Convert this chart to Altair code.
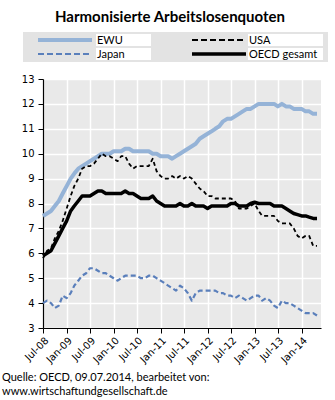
import altair as alt
import pandas as pd

months = pd.date_range("2008-07-01", "2014-05-01", freq="MS")

ewu = [7.5, 7.6, 7.7, 7.9, 8.1, 8.4,
       8.7, 9.0, 9.2, 9.4, 9.5, 9.6, 9.7, 9.8, 9.9, 10.0, 10.0, 10.0,
       10.1, 10.1, 10.1, 10.2, 10.2, 10.1, 10.1, 10.1, 10.1, 10.1, 10.0, 10.0,
       9.9, 9.9, 9.9, 9.8, 9.9, 10.0, 10.1, 10.2, 10.3, 10.4, 10.6, 10.7,
       10.8, 10.9, 11.0, 11.1, 11.3, 11.4, 11.4, 11.5, 11.6, 11.7, 11.8, 11.8,
       11.9, 12.0, 12.0, 12.0, 12.0, 12.0, 11.9, 12.0, 11.9, 11.9, 11.8, 11.8,
       11.8, 11.7, 11.7, 11.6, 11.6]
usa = [5.8, 6.1, 6.2, 6.6, 6.9, 7.3,
       7.8, 8.3, 8.7, 9.0, 9.4, 9.5, 9.5, 9.6, 9.8, 10.0, 9.9, 9.9,
       9.8, 9.7, 9.9, 9.9, 9.6, 9.4, 9.5, 9.5, 9.5, 9.5, 9.8, 9.3,
       9.1, 9.0, 9.0, 9.1, 9.0, 9.1, 9.0, 9.1, 9.0, 8.8, 8.6, 8.5,
       8.3, 8.3, 8.2, 8.2, 8.2, 8.2, 8.2, 8.1, 7.8, 7.8, 7.8, 7.9,
       8.0, 7.7, 7.5, 7.5, 7.5, 7.5, 7.3, 7.2, 7.2, 7.2, 7.0, 6.7,
       6.6, 6.7, 6.7, 6.3, 6.3]
japan = [4.0, 4.1, 4.0, 3.8, 3.9, 4.3,
         4.2, 4.4, 4.7, 4.9, 5.1, 5.2, 5.4, 5.4, 5.3, 5.2, 5.2, 5.1,
         5.0, 4.9, 5.0, 5.1, 5.1, 5.1, 5.1, 5.0, 5.0, 5.1, 5.1, 5.0,
         4.9, 4.8, 4.7, 4.6, 4.5, 4.7, 4.6, 4.4, 4.1, 4.4, 4.5, 4.5,
         4.5, 4.5, 4.5, 4.4, 4.4, 4.3, 4.3, 4.2, 4.3, 4.2, 4.1, 4.2,
         4.3, 4.3, 4.1, 4.2, 4.1, 3.9, 3.8, 4.1, 4.0, 4.0, 3.9, 3.8,
         3.7, 3.6, 3.6, 3.6, 3.5]
oecd = [5.9, 6.0, 6.1, 6.4, 6.7, 7.0,
        7.3, 7.7, 7.9, 8.1, 8.3, 8.3, 8.3, 8.4, 8.5, 8.5, 8.4, 8.4,
        8.4, 8.4, 8.4, 8.5, 8.4, 8.4, 8.3, 8.2, 8.2, 8.2, 8.3, 8.1,
        8.0, 7.9, 7.9, 7.9, 7.9, 8.0, 7.9, 7.9, 8.0, 7.9, 7.9, 7.9,
        7.8, 7.9, 7.9, 7.9, 7.9, 7.9, 8.0, 8.0, 7.9, 7.9, 7.9, 8.0,
        8.05, 8.0, 8.0, 8.0, 8.0, 7.9, 7.9, 7.9, 7.8, 7.7, 7.6, 7.55,
        7.5, 7.5, 7.45, 7.4, 7.4]

series_names = ["EWU", "USA", "Japan", "OECD gesamt"]
series_values = {"EWU": ewu, "USA": usa, "Japan": japan, "OECD gesamt": oecd}
series_colors = {"EWU": "#95b3d7", "USA": "#000000", "Japan": "#5a7fbb", "OECD gesamt": "#000000"}
series_dashes = {"EWU": None, "USA": [4, 3], "Japan": [5, 3], "OECD gesamt": None}
series_widths = {"EWU": 4, "USA": 1.8, "Japan": 2.2, "OECD gesamt": 3.5}
draw_order = ["EWU", "Japan", "USA", "OECD gesamt"]

title_text = "Harmonisierte Arbeitslosenquoten"
source_lines = ["Quelle: OECD, 09.07.2014, bearbeitet von:",
                "www.wirtschaftundgesellschaft.de"]

rows = []
for name in draw_order:
    for d, v in zip(months, series_values[name]):
        rows.append({"Monat": d, "Quote": v, "Reihe": name})
df = pd.DataFrame(rows)

tick_dates = [alt.DateTime(year=y, month=m, date=1)
              for y in range(2008, 2015) for m in (1, 7)
              if (2008, 7) <= (y, m) <= (2014, 1)]

W, H = 278, 249
OX, OY = 43, 79  # plot origin within the 335x400 page

x_enc = alt.X("Monat:T",
              scale=alt.Scale(domain=[alt.DateTime(year=2008, month=7, date=1),
                                      alt.DateTime(year=2014, month=6, date=1)]),
              axis=alt.Axis(values=tick_dates, format="%b-%y", labelAngle=-45,
                            labelAlign="right", labelBaseline="top", title=None,
                            labelPadding=2, labelOverlap=False))
y_enc = alt.Y("Quote:Q", scale=alt.Scale(domain=[3, 13], nice=False, zero=False),
              axis=alt.Axis(values=list(range(3, 14)), title=None, labelPadding=4))

layers = []
for name in draw_order:
    kw = dict(color=series_colors[name], strokeWidth=series_widths[name],
              strokeCap="butt", strokeJoin="round")
    if series_dashes[name]:
        kw["strokeDash"] = series_dashes[name]
    layers.append(alt.Chart(df).transform_filter(alt.datum.Reihe == name)
                  .mark_line(**kw).encode(x=x_enc, y=y_enc))

one = pd.DataFrame({"k": [0]})


def px(x):
    return alt.value(x - OX)


def py(y):
    return alt.value(y - OY)


# legend box
layers.append(alt.Chart(one).mark_rect(color="#e3e3e3").encode(
    x=px(23), x2=px(328), y=py(32), y2=py(62)))

# legend entries: 2 columns, row-major
col_sym_x = [38, 192]
col_lab_x = [96, 248]
col_box_w = [55, 75]
row_y = [40, 54]
for i, name in enumerate(series_names):
    r, c = divmod(i, 2)
    yy = row_y[r]
    layers.append(alt.Chart(one).mark_rect(color="#ffffff").encode(
        x=px(col_lab_x[c]), x2=px(col_lab_x[c] + col_box_w[c]),
        y=py(yy - 6), y2=py(yy + 6)))
    layers.append(alt.Chart(one).mark_rule(
        color=series_colors[name], strokeWidth=series_widths[name],
        strokeDash=[6, 3] if series_dashes[name] else [1, 0],
        strokeCap="butt").encode(
        x=px(col_sym_x[c]), x2=px(col_sym_x[c] + 54), y=py(yy)))
    layers.append(alt.Chart(pd.DataFrame({"t": [name]})).mark_text(
        align="left", baseline="middle", font="Lato", fontSize=11, color="#000000").encode(
        text="t:N", x=px(col_lab_x[c] + 1), y=py(yy + 0.5)))

# title
layers.append(alt.Chart(pd.DataFrame({"t": [title_text]})).mark_text(
    align="center", baseline="alphabetic", font="Lato", fontSize=15, fontWeight="bold",
    color="#000000").encode(text="t:N", x=px(170), y=py(22)))

# source lines
for j, s in enumerate(source_lines):
    layers.append(alt.Chart(pd.DataFrame({"t": [s]})).mark_text(
        align="left", baseline="alphabetic", font="Lato", fontSize=11, color="#000000"
    ).encode(text="t:N", x=px(2), y=py(381 + 14 * j)))

chart = alt.layer(*layers).properties(
    width=W, height=H,
    padding={"left": OX, "top": OY, "right": 335 - OX - W, "bottom": 400 - OY - H},
    autosize=alt.AutoSizeParams(type="none"),
    background="#ffffff",
).configure_view(
    fill="#e9e9e9", strokeWidth=0
).configure_axis(
    domainColor="#000000", domainWidth=1.2, tickColor="#000000", tickSize=5,
    gridColor="#ffffff", gridWidth=1.5, labelFont="DejaVu Sans", labelFontSize=10,
    labelColor="#000000"
)

chart.save("out.html", embed_options={"renderer": "svg", "actions": False})
